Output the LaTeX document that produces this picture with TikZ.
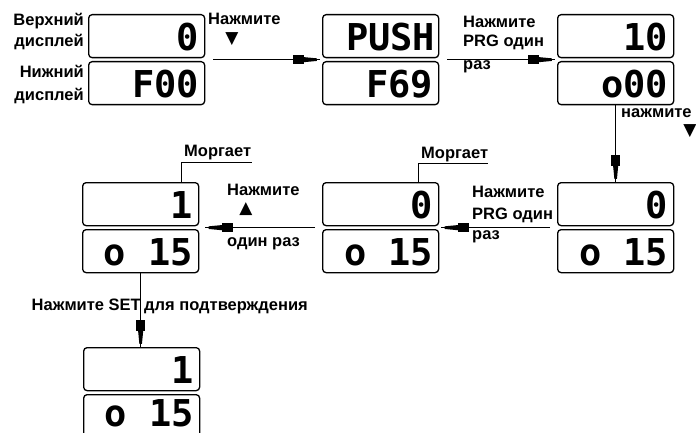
\documentclass[tikz,border=0pt]{standalone}
\usepackage{fontspec}
\setmainfont{Liberation Sans}
\newfontfamily\digfont{DejaVu Sans Mono}
\newfontfamily\symfont{DejaVu Sans}
\usetikzlibrary{calc,decorations.markings}
\begin{document}
\begin{tikzpicture}[x=1pt,y=-1pt,
  disp/.style={draw=black, line width=1.3pt, rounded corners=3.5pt, minimum width=116pt, minimum height=43pt, inner sep=0pt, anchor=north west},
  dig/.style={font=\digfont\bfseries\fontsize{37}{37}\selectfont, inner sep=0pt, anchor=east},
  lbl/.style={font=\bfseries\fontsize{16.5}{16.5}\selectfont, inner sep=0pt},
  sym/.style={font=\symfont\fontsize{17}{17}\selectfont, inner sep=0pt},
  conn/.style={line width=1.3pt},
  arr/.style={postaction={decorate}, decoration={markings, mark=at position -0.2pt with {\fill (-27pt,-4.2pt) rectangle (-16pt,4.2pt); \fill (-16.5pt,-2.6pt) -- (-3pt,-1.3pt) -- (-3pt,1.3pt) -- (-16.5pt,2.6pt) -- cycle;}}},
  callout/.style={line width=1pt}]
\useasboundingbox (0,0) rectangle (696,433);
\clip (0,0) rectangle (696,433);
% ---- row 1 ----
\node[disp] (g1u) at (88,14) {};
\node[disp] (g1l) at (88,61) {};
\node[disp] (g2u) at (322,14) {};
\node[disp] (g2l) at (322,61) {};
\node[disp] (g3u) at (557,14) {};
\node[disp] (g3l) at (557,61) {};
\node[dig] (g1ud) at ([xshift=-6pt,yshift=-1pt]g1u.east) {0};
\node[dig] (g1ld) at ([xshift=-6pt,yshift=-1pt]g1l.east) {F00};
\node[dig] (g2ud) at ([xshift=-4pt,yshift=-1pt]g2u.east) {PUSH};
\node[dig] (g2ld) at ([xshift=-6pt,yshift=-1pt]g2l.east) {F69};
\node[dig] (g3ud) at ([xshift=-6pt,yshift=-1pt]g3u.east) {10};
\node[dig] (g3ld) at ([xshift=-6pt,yshift=-1pt]g3l.east) {o00};
% ---- row 2 ----
\node[disp] (r2lu) at (82,182) {};
\node[disp] (r2ll) at (82,229) {};
\node[disp] (r2mu) at (322,182) {};
\node[disp] (r2ml) at (322,229) {};
\node[disp] (r2ru) at (557,182) {};
\node[disp] (r2rl) at (557,229) {};
\node[dig] (r2lud) at ([xshift=-6pt,yshift=-1pt]r2lu.east) {1};
\node[dig] (r2lld) at ([xshift=-6pt,yshift=-1pt]r2ll.east) {o 15};
\node[dig] (r2mud) at ([xshift=-6pt,yshift=-1pt]r2mu.east) {0};
\node[dig] (r2mld) at ([xshift=-6pt,yshift=-1pt]r2ml.east) {o 15};
\node[dig] (r2rud) at ([xshift=-6pt,yshift=-1pt]r2ru.east) {0};
\node[dig] (r2rld) at ([xshift=-6pt,yshift=-1pt]r2rl.east) {o 15};
% ---- row 3 ----
\node[disp] (bu) at (83,347) {};
\node[disp] (bl) at (83,394) {};
\node[dig] (bud) at ([xshift=-6pt,yshift=-1pt]bu.east) {1};
\node[dig] (bld) at ([xshift=-6pt,yshift=3pt]bl.east) {o 15};
% ---- connectors ----
\coordinate (a1s) at ($(g1u.south east)!.5!(g1l.north east)+(8,0)$);
\coordinate (a1e) at ($(g2u.south west)!.5!(g2l.north west)+(-2,0)$);
\draw[conn,arr] (a1s) -- (a1e);
\coordinate (a2s) at ($(g2u.south east)!.5!(g2l.north east)+(8,0)$);
\coordinate (a2e) at ($(g3u.south west)!.5!(g3l.north west)+(-2,0)$);
\draw[conn,arr] (a2s) -- (a2e);
\draw[conn,arr] (g3l.south) -- (r2ru.north);
\coordinate (a4s) at ($(r2ru.south west)!.5!(r2rl.north west)+(-7,0)$);
\coordinate (a4e) at ($(r2mu.south east)!.5!(r2ml.north east)+(2,0)$);
\draw[conn,arr] (a4s) -- (a4e);
\coordinate (a5s) at ($(r2mu.south west)!.5!(r2ml.north west)+(-7,0)$);
\coordinate (a5e) at ($(r2lu.south east)!.5!(r2ll.north east)+(6,0)$);
\draw[conn,arr] (a5s) -- (a5e);
\draw[conn,arr] (r2ll.south) -- (r2ll.south |- bu.north);
% ---- callouts ----
\coordinate (c1x) at (181.5,162);
\coordinate (c1c) at (252,162);
\draw[callout] (c1x |- r2lu.north) -- (c1x) -- (c1c);
\node[lbl, anchor=base west] (m1) at (184,157) {Моргает};
\coordinate (c2x) at (418,163);
\coordinate (c2c) at (488,163);
\draw[callout] (c2x |- r2mu.north) -- (c2x) -- (c2c);
\node[lbl, anchor=base west] (m2) at (421,158) {Моргает};
% ---- labels ----
\node[lbl, anchor=base east] (t1) at (84,26) {Верхний};
\node[lbl, anchor=base east] (t2) at (84,47) {дисплей};
\node[lbl, anchor=base east] (t3) at (84,78) {Нижний};
\node[lbl, anchor=base east] (t4) at (84,101) {дисплей};
\node[lbl, anchor=base west] (p1) at (208,25) {Нажмите};
\node[sym] (p1s) at (232,39) {▼};
\node[lbl, anchor=base west] (p2a) at (463,28) {Нажмите};
\node[lbl, anchor=base west] (p2b) at (463,47) {PRG один};
\node[lbl, anchor=base west] (p2c) at (463,70) {раз};
\node[lbl, anchor=base west] (p3) at (621,118) {нажмите};
\node[sym] (p3s) at (690,131) {▼};
\node[lbl, anchor=base west] (p4a) at (472,197) {Нажмите};
\node[lbl, anchor=base west] (p4b) at (472,219) {PRG один};
\node[lbl, anchor=base west] (p4c) at (472,239) {раз};
\node[lbl, anchor=base west] (p5a) at (227,195) {Нажмите};
\node[sym] (p5s) at (246,209) {▲};
\node[lbl, anchor=base west] (p5b) at (227,246) {один раз};
\node[lbl, anchor=base east] (p6a) at (141,310) {Нажмите SET};
\node[lbl, anchor=base west] (p6b) at (144,310) {для подтверждения};
\end{tikzpicture}
\end{document}
